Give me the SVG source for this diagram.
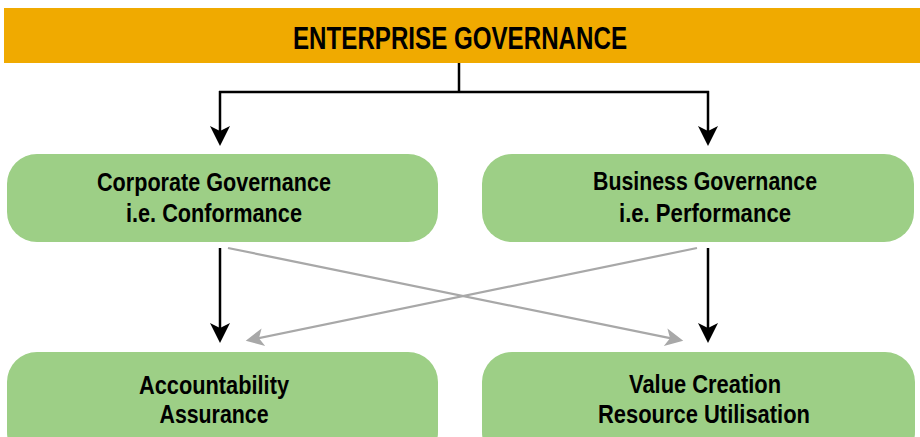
<svg xmlns="http://www.w3.org/2000/svg" width="920" height="437" viewBox="0 0 920 437">
  <style>
    .node { fill: #9DCF86; }
    .title-bar { fill: #F0AA00; }
    .label { font-family: "Liberation Sans", Arial, sans-serif; font-weight: bold; fill: #000; text-anchor: middle; }
    .title { font-size: 31px; }
    .nlabel { font-size: 26.5px; }
    .flow { fill: none; stroke: #000; stroke-width: 2.5; }
    .cross { fill: none; stroke: #A8A8A8; stroke-width: 2.2; }
  </style>
  <defs>
    <marker id="arrowBlack" viewBox="0 0 20 20" refX="12" refY="10" markerWidth="20" markerHeight="20" markerUnits="userSpaceOnUse" orient="auto">
      <path d="M0,0 L20,10 L0,20 L5,10 Z" fill="#000"/>
    </marker>
    <marker id="arrowGrey" viewBox="0 0 20 20" refX="12" refY="10" markerWidth="20" markerHeight="18" markerUnits="userSpaceOnUse" orient="auto">
      <path d="M0,0 L20,10 L0,20 L5,10 Z" fill="#A8A8A8"/>
    </marker>
  </defs>

  <g id="enterprise-governance">
    <rect class="title-bar" x="4" y="8" width="916" height="55"/>
    <text class="label title" x="460" y="49" textLength="334" lengthAdjust="spacingAndGlyphs">ENTERPRISE GOVERNANCE</text>
  </g>

  <g id="connectors">
    <path class="flow" d="M459,63 V92"/>
    <path class="flow" d="M219,92 H709"/>
    <path class="flow" d="M220,91 V138" marker-end="url(#arrowBlack)"/>
    <path class="flow" d="M708,91 V138" marker-end="url(#arrowBlack)"/>
    <path class="flow" d="M220,248 V335" marker-end="url(#arrowBlack)"/>
    <path class="flow" d="M708,248 V335" marker-end="url(#arrowBlack)"/>
    <path class="cross" d="M228,248 L676.2,339.4" marker-end="url(#arrowGrey)"/>
    <path class="cross" d="M697,248 L252.8,339.4" marker-end="url(#arrowGrey)"/>
  </g>

  <g id="corporate-governance">
    <rect class="node" x="7" y="154" width="431" height="88" rx="30" ry="30"/>
    <text class="label nlabel" x="214" y="191" textLength="234" lengthAdjust="spacingAndGlyphs">Corporate Governance</text>
    <text class="label nlabel" x="214" y="222" textLength="176" lengthAdjust="spacingAndGlyphs">i.e. Conformance</text>
  </g>

  <g id="business-governance">
    <rect class="node" x="482" y="154" width="432" height="88" rx="30" ry="30"/>
    <text class="label nlabel" x="705" y="190" textLength="224" lengthAdjust="spacingAndGlyphs">Business Governance</text>
    <text class="label nlabel" x="705" y="222" textLength="172" lengthAdjust="spacingAndGlyphs">i.e. Performance</text>
  </g>

  <g id="accountability">
    <rect class="node" x="7" y="352" width="431" height="110" rx="30" ry="30"/>
    <text class="label nlabel" x="214" y="394" textLength="150" lengthAdjust="spacingAndGlyphs">Accountability</text>
    <text class="label nlabel" x="214" y="423" textLength="109" lengthAdjust="spacingAndGlyphs">Assurance</text>
  </g>

  <g id="value-creation">
    <rect class="node" x="482" y="352" width="433" height="110" rx="30" ry="30"/>
    <text class="label nlabel" x="705" y="393" textLength="152" lengthAdjust="spacingAndGlyphs">Value Creation</text>
    <text class="label nlabel" x="704" y="423" textLength="212" lengthAdjust="spacingAndGlyphs">Resource Utilisation</text>
  </g>
</svg>
